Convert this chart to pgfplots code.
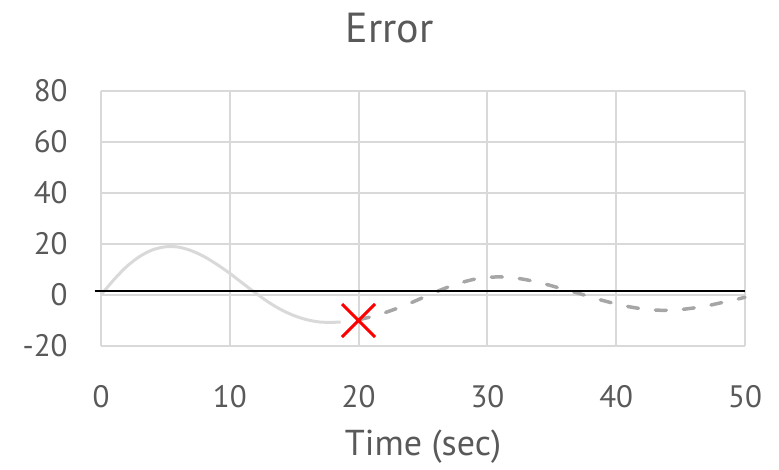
\documentclass[border=0pt]{standalone}
\usepackage{fontspec}
\setmainfont{PT Sans}
\usepackage{pgfplots}
\pgfplotsset{compat=1.18}
\definecolor{txt}{HTML}{595959}
\definecolor{grd}{HTML}{D9D9D9}
\definecolor{solidc}{HTML}{D9D9D9}
\definecolor{dashc}{HTML}{A6A6A6}
\begin{document}
\begin{tikzpicture}
\begin{axis}[
  name=ax, scale only axis, width=322pt, height=127.5pt,
  xmin=0, xmax=50, ymin=-20, ymax=80,
  xtick={0,10,...,50}, ytick={-20,0,...,80},
  xticklabels={0,10,20,30,40,50}, yticklabels={-20,0,20,40,60,80},
  grid=major, major grid style={draw=grd, line width=1pt},
  axis line style={draw=none}, major tick length=0pt,
  tick label style={font=\fontsize{15.5}{18}\selectfont, text=txt, inner sep=0pt},
  xticklabel style={anchor=base, yshift=-30.5pt},
  yticklabel style={anchor=east, xshift=-16.5pt},
  clip=false,
]
% simulated error, first 20 s
\addplot[solidc, line width=1.5pt, smooth, no marks] coordinates {
  (0,0) (1,6.0) (2,11.2) (3,15.1) (4,17.7) (5,18.9) (6,18.8) (7,17.4)
  (8,15.1) (9,12.0) (10,8.5) (11,4.6) (12,0.8) (13,-2.8) (14,-5.8)
  (15,-8.1) (16,-9.7) (17,-10.6) (18,-10.7) (18.6,-10.6)
};
% predicted continuation
\addplot[dashc, line width=1.75pt, smooth, no marks, line cap=round,
  dash pattern=on 5.5pt off 8.5pt] coordinates {
  (20,-9.7) (21,-8.5) (22,-7.0) (23,-5.2) (24,-3.2) (25,-1.0) (26,1.2)
  (27,3.2) (28,4.9) (29,6.2) (30,6.9) (31,7.1) (32,6.8) (33,6.0) (34,4.9)
  (35,3.6) (36,2.1) (37,0.8) (38,-0.8) (39,-2.2) (40,-3.5) (41,-4.6)
  (42,-5.4) (43,-5.9) (44,-6.0) (45,-5.7) (46,-5.1) (47,-4.3) (48,-3.2)
  (49,-2.1) (50,-0.9)
};
\addplot[black, line width=1pt, no marks] coordinates {(-0.5,1.4) (50,1.4)};
\addplot[only marks, mark=x, mark size=11.7pt, mark options={red, line width=1.5pt}]
  coordinates {(20,-10)};
\node[font=\fontsize{21}{25}\selectfont, text=txt, anchor=base, yshift=24.5pt]
  at (rel axis cs:0.448,1) {Error};
\node[font=\fontsize{18}{22}\selectfont, text=txt, anchor=base, yshift=-54.5pt]
  at (rel axis cs:0.5,0) {Time (sec)};
\end{axis}
\path[use as bounding box] ([shift={(-50.5pt,-59pt)}]ax.south west)
  rectangle ([shift={(17pt,45.5pt)}]ax.north east);
\end{tikzpicture}
\end{document}
